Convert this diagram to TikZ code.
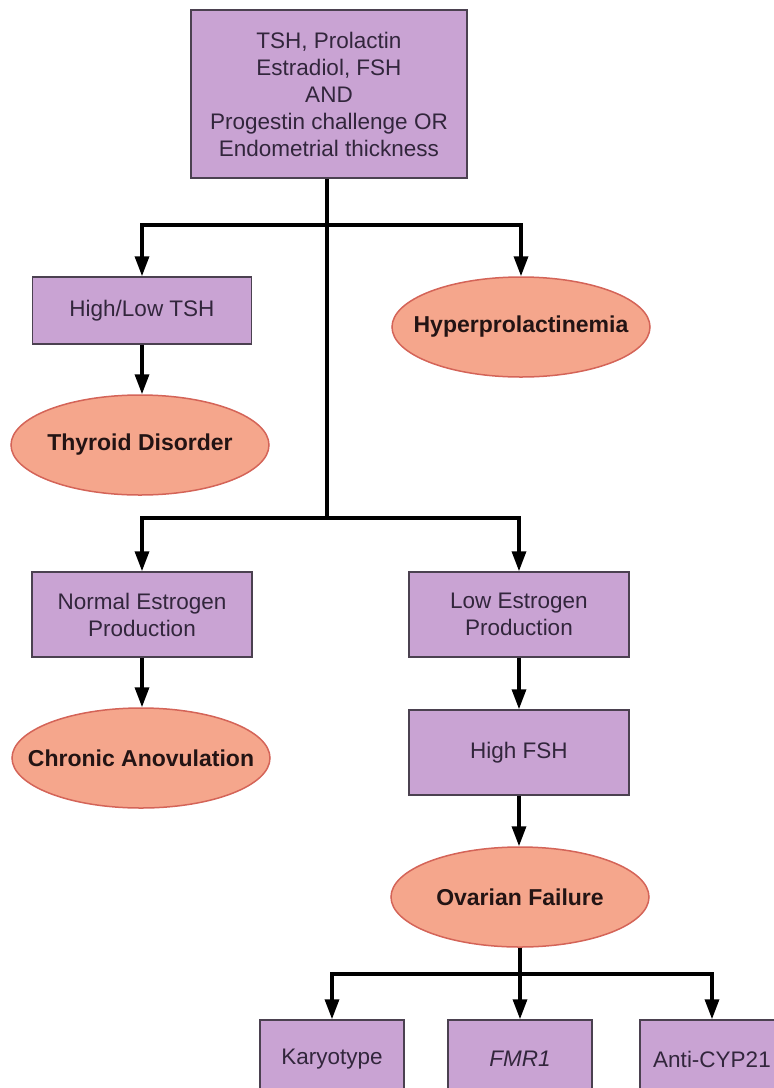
\documentclass[tikz,border=0pt]{standalone}
\usepackage{fontspec}
\setmainfont{Liberation Sans}
\usetikzlibrary{arrows.meta,shapes.geometric}
\definecolor{boxfill}{RGB}{201,163,211}
\definecolor{boxline}{RGB}{75,65,80}
\definecolor{ellfill}{RGB}{245,166,140}
\definecolor{ellline}{RGB}{212,100,88}
\definecolor{boxtext}{RGB}{50,38,60}
\definecolor{elltext}{RGB}{35,20,20}
\newcommand\ovtext[1]{\makebox[0pt][c]{#1}}
\begin{document}
\begin{tikzpicture}[x=1pt,y=-1pt,
  box/.style={draw=boxline, line width=1.5pt, fill=boxfill, text=boxtext,
    font=\fontsize{22.5}{27}\selectfont, align=center, inner sep=0pt},
  oval/.style={ellipse, draw=ellline, line width=1.5pt, fill=ellfill, text=elltext,
    font=\bfseries\fontsize{23}{26}\selectfont, inner sep=0pt,
    minimum width=258pt, minimum height=100pt},
  ln/.style={line width=3.4pt, line join=miter},
  arr/.style={ln, -{Triangle[length=20pt,width=14pt]}}]
\useasboundingbox (0,0) rectangle (774,1088);
\clip (0,0) rectangle (774,1088);

\node[box, minimum width=276pt, minimum height=168pt] (top) at (329,94)
  {TSH, Prolactin\\Estradiol, FSH\\AND\\Progestin challenge OR\\Endometrial thickness};

\node[box, minimum width=219pt, minimum height=67pt] (tsh) at (142,310.5) {High/Low TSH};
\node[oval] (hyper) at (521,327) {\ovtext{Hyperprolactinemia}};
\node[oval] (thyroid) at (140,445) {\ovtext{Thyroid Disorder}};

\node[box, minimum width=220pt, minimum height=85pt] (normal) at (142,614.5) {Normal Estrogen\\Production};
\node[box, minimum width=220pt, minimum height=85pt] (low) at (519,614.5) {Low Estrogen\\Production};
\node[oval] (chronic) at (141,758) {\ovtext{Chronic Anovulation}};
\node[box, minimum width=220pt, minimum height=85pt] (fsh) at (519,752.5) {High FSH};
\node[oval] (ovarian) at (520,897) {\ovtext{Ovarian Failure}};

\node[box, minimum width=144pt, minimum height=78pt] (karyo) at (332,1059) {Karyotype};
\node[box, minimum width=144pt, minimum height=78pt] (fmr) at (520,1059) {\itshape FMR1};
\node[box, minimum width=144pt, minimum height=78pt] (cyp) at (712,1059) {Anti-CYP21};

\coordinate (j1) at (327,225);
\coordinate (j2) at (327,518);
\coordinate (j3) at (520,974);

\draw[ln] (top.south -| j1) -- (j2);
\draw[arr] (j1) -| (tsh.north);
\draw[arr] (j1) -| (hyper.north);
\draw[arr] (tsh.south) -- (tsh.south |- thyroid.north);
\draw[arr] (j2) -| (normal.north);
\draw[arr] (j2) -| (low.north);
\draw[arr] (normal.south) -- (normal.south |- chronic.north);
\draw[arr] (low) -- (fsh);
\draw[arr] (fsh.south) -- (fsh.south |- ovarian.north);
\draw[ln] (ovarian.south -| j3) -- (j3);
\draw[arr] (j3) -| (karyo.north);
\draw[arr] (j3) -- (fmr.north);
\draw[arr] (j3) -| (cyp.north);
\end{tikzpicture}
\end{document}
